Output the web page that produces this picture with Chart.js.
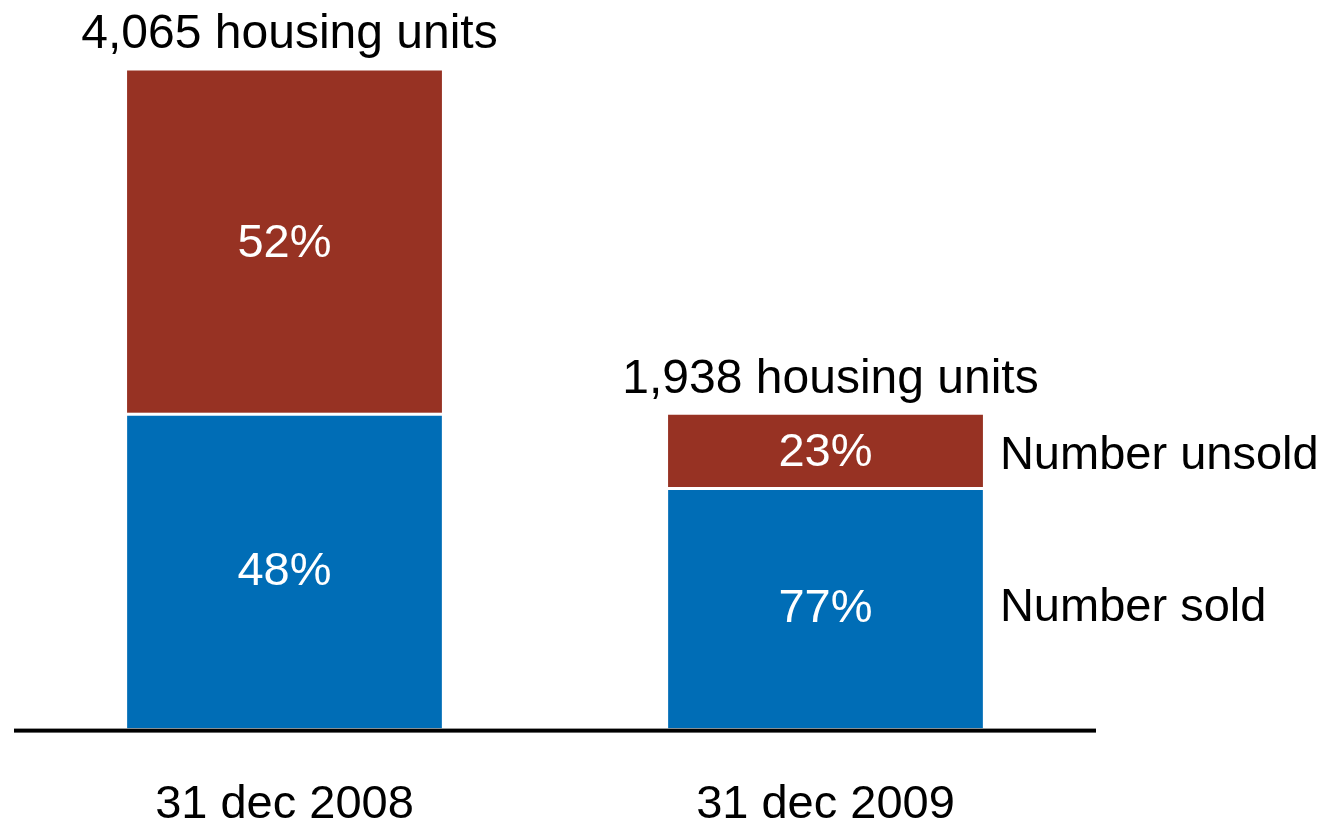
<!DOCTYPE html>
<html>
<head>
<meta charset="utf-8">
<script src="https://cdn.jsdelivr.net/npm/chart.js@4.4.1/dist/chart.umd.min.js"></script>
<style>
  html, body { margin: 0; padding: 0; background: #fff; }
  #wrap { width: 1329px; height: 827px; position: relative; }
</style>
</head>
<body>
<div id="wrap"><canvas id="housingChart"></canvas></div>
<script>
// data
const categories = ['31 dec 2008', '31 dec 2009'];
const totalUnits = [4065, 1938];
const soldUnits = [1951, 1492];
const unsoldUnits = [2114, 446];
const soldShare = ['48%', '77%'];
const unsoldShare = ['52%', '23%'];
const seriesNames = ['Number sold', 'Number unsold'];

const RED = '#973223';
const BLUE = '#006db6';
const FONT_FAMILY = '"Liberation Sans", Arial, sans-serif';
const FONT_SIZE = 47;

// labels inside the bars, totals above, series names on the right, axis line
const barLabels = {
    id: 'barLabels',
    afterDatasetsDraw(chart) {
        const ctx = chart.ctx;
        const area = chart.chartArea;
        const sold = chart.getDatasetMeta(0).data;
        const unsold = chart.getDatasetMeta(1).data;

        ctx.save();
        ctx.fillStyle = '#000';
        ctx.fillRect(area.left, area.bottom, area.right - area.left, 4);

        ctx.font = FONT_SIZE + 'px ' + FONT_FAMILY;
        ctx.textAlign = 'center';
        ctx.textBaseline = 'middle';
        ctx.fillStyle = '#fff';
        sold.forEach((bar, i) => {
            ctx.fillText(soldShare[i], bar.x, (bar.y + bar.base) / 2 + 1);
        });
        unsold.forEach((bar, i) => {
            ctx.fillText(unsoldShare[i], bar.x, (bar.y + bar.base) / 2 + 2);
        });

        // totals
        ctx.fillStyle = '#000';
        ctx.textBaseline = 'alphabetic';
        ctx.font = (FONT_SIZE + 1) + 'px ' + FONT_FAMILY;
        unsold.forEach((bar, i) => {
            const txt = totalUnits[i].toLocaleString('en-US') + ' housing units';
            ctx.fillText(txt, bar.x + 5, bar.y - 22);
        });

        // series names next to the last bar
        const last = categories.length - 1;
        ctx.font = FONT_SIZE + 'px ' + FONT_FAMILY;
        ctx.textAlign = 'left';
        ctx.textBaseline = 'middle';
        const s = sold[last], u = unsold[last];
        const tx = s.x + s.width / 2 + 17;
        ctx.fillText(seriesNames[1], tx, (u.y + u.base) / 2 + 5);
        ctx.fillText(seriesNames[0], tx, (s.y + s.base) / 2);
        ctx.restore();
    }
};

new Chart(document.getElementById('housingChart'), {
    type: 'bar',
    plugins: [barLabels],
    data: {
        labels: categories,
        datasets: [{
            label: seriesNames[0],
            data: soldUnits,
            backgroundColor: BLUE,
            borderColor: '#fff',
            borderWidth: { top: 3, left: 0, right: 0, bottom: 0 },
            borderSkipped: false,
            categoryPercentage: 1,
            barPercentage: 0.582
        }, {
            label: seriesNames[1],
            data: unsoldUnits,
            backgroundColor: RED,
            borderWidth: 0,
            categoryPercentage: 1,
            barPercentage: 0.582
        }]
    },
    options: {
        responsive: true,
        maintainAspectRatio: false,
        animation: false,
        layout: {
            padding: { left: 14, right: 233, top: 0, bottom: -54 }
        },
        plugins: {
            legend: { display: false },
            tooltip: { enabled: false }
        },
        scales: {
            x: {
                stacked: true,
                grid: { display: false, drawTicks: false },
                border: { display: false },
                ticks: {
                    color: '#000',
                    padding: 48,
                    font: { family: FONT_FAMILY, size: FONT_SIZE }
                }
            },
            y: {
                stacked: true,
                display: false,
                min: 0,
                max: 4500
            }
        }
    }
});
</script>
</body>
</html>
